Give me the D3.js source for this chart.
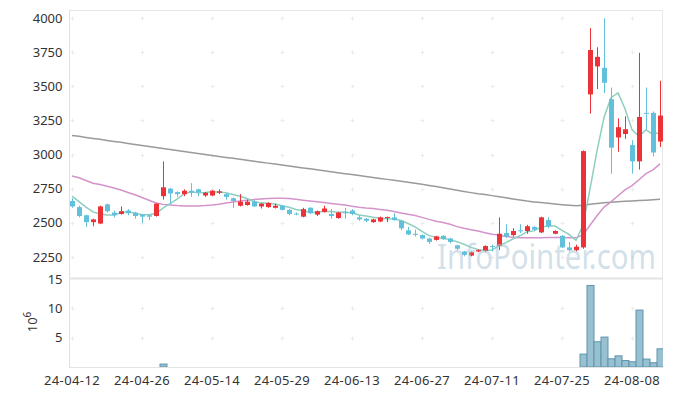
<!DOCTYPE html>
<html>
<head>
<meta charset="utf-8">
<script src="https://cdn.jsdelivr.net/npm/d3@7"></script>
<style>
body { margin: 0; background: #fff; }
svg { display: block; font-family: "Noto Sans", sans-serif; }
.tickLabel { font-size: 13px; fill: #333; font-family: "Noto Sans", sans-serif; }
</style>
</head>
<body>
<div id="chart"></div>
<script>
const dates = [
  "24-04-12","24-04-15","24-04-16","24-04-17","24-04-18","24-04-19","24-04-22","24-04-23","24-04-24","24-04-25",
  "24-04-26","24-04-29","24-04-30","24-05-02","24-05-03","24-05-07","24-05-08","24-05-09","24-05-10","24-05-13",
  "24-05-14","24-05-16","24-05-17","24-05-20","24-05-21","24-05-22","24-05-23","24-05-24","24-05-27","24-05-28",
  "24-05-29","24-05-30","24-05-31","24-06-03","24-06-04","24-06-05","24-06-07","24-06-10","24-06-11","24-06-12",
  "24-06-13","24-06-14","24-06-17","24-06-18","24-06-19","24-06-20","24-06-21","24-06-24","24-06-25","24-06-26",
  "24-06-27","24-06-28","24-07-01","24-07-02","24-07-03","24-07-04","24-07-05","24-07-08","24-07-09","24-07-10",
  "24-07-11","24-07-12","24-07-15","24-07-16","24-07-17","24-07-18","24-07-19","24-07-22","24-07-23","24-07-24",
  "24-07-25","24-07-26","24-07-29","24-07-30","24-07-31","24-08-01","24-08-02","24-08-05","24-08-06","24-08-07",
  "24-08-08","24-08-09","24-08-12","24-08-13","24-08-14"
];

const open = [
  2660,2615,2555,2505,2495,2635,2575,2565,2590,2575,
  2560,2555,2550,2695,2750,2725,2710,2735,2745,2700,
  2700,2720,2710,2680,2625,2630,2655,2620,2615,2610,
  2625,2595,2568,2545,2610,2560,2580,2565,2535,2580,
  2590,2540,2530,2505,2510,2535,2540,2515,2445,2420,
  2410,2385,2375,2405,2385,2335,2290,2260,2290,2295,
  2330,2330,2425,2410,2445,2440,2470,2430,2520,2420,
  2405,2320,2300,2320,3440,3645,3635,3405,3125,3150,
  3070,2950,3305,3305,3095
];
const high = [
  2680,2625,2560,2530,2625,2640,2590,2620,2600,2580,
  2565,2560,2645,2950,2755,2730,2745,2790,2750,2725,
  2740,2745,2715,2685,2710,2670,2665,2645,2650,2640,
  2630,2600,2575,2610,2615,2590,2625,2600,2580,2610,
  2600,2555,2535,2530,2545,2545,2570,2520,2470,2450,
  2415,2390,2405,2410,2390,2340,2295,2290,2305,2335,
  2340,2540,2490,2460,2490,2485,2475,2545,2540,2445,
  2410,2360,2340,3030,3925,3785,3998,3490,3265,3280,
  3105,3745,3490,3315,3540
];
const low = [
  2610,2540,2470,2475,2490,2575,2540,2560,2555,2530,
  2500,2520,2545,2670,2640,2690,2695,2690,2695,2690,
  2695,2710,2670,2610,2620,2625,2615,2605,2610,2605,
  2590,2555,2555,2540,2565,2550,2575,2530,2530,2530,
  2555,2515,2505,2500,2505,2505,2515,2445,2410,2400,
  2380,2345,2370,2375,2350,2300,2255,2255,2285,2285,
  2290,2300,2390,2400,2425,2420,2440,2425,2460,2415,
  2315,2290,2290,2310,3300,3480,3450,2860,3020,3115,
  2860,2890,3185,2985,3055
];
const close = [
  2620,2550,2505,2525,2620,2585,2555,2585,2570,2550,
  2545,2545,2640,2760,2715,2710,2735,2720,2725,2720,
  2735,2730,2690,2660,2655,2655,2620,2640,2645,2625,
  2595,2565,2562,2600,2570,2585,2605,2550,2575,2570,
  2565,2525,2515,2525,2540,2542,2520,2460,2415,2412,
  2385,2360,2400,2380,2360,2310,2265,2285,2300,2330,
  2325,2420,2400,2440,2440,2475,2450,2540,2475,2440,
  2320,2300,2325,3025,3765,3715,3525,3050,3200,3185,
  2950,3275,3300,3015,3285
];
// volume in millions of shares
const volume = [
  0.06,0.05,0.06,0.04,0.07,0.05,0.04,0.05,0.04,0.04,
  0.05,0.04,0.09,0.50,0.12,0.05,0.04,0.06,0.04,0.03,
  0.04,0.03,0.04,0.05,0.06,0.04,0.04,0.03,0.03,0.03,
  0.04,0.05,0.03,0.06,0.04,0.03,0.05,0.04,0.04,0.05,
  0.03,0.04,0.03,0.03,0.04,0.03,0.05,0.07,0.06,0.04,
  0.04,0.05,0.04,0.03,0.04,0.06,0.07,0.05,0.04,0.05,
  0.04,0.14,0.08,0.06,0.07,0.06,0.05,0.10,0.08,0.05,
  0.09,0.06,0.05,2.2,13.9,4.3,5.1,1.4,1.9,1.1,
  0.9,9.7,1.35,0.73,3.1
];
const ma5 = [
  2695,2655,2615,2580,2564,2557,2558,2574,2583,2569,
  2561,2559,2570,2608,2641,2674,2712,2728,2721,2722,
  2727,2726,2720,2707,2694,2678,2656,2646,2643,2637,
  2625,2614,2598,2589,2578,2576,2584,2582,2577,2577,
  2573,2557,2550,2540,2534,2529,2528,2517,2495,2470,
  2438,2406,2394,2387,2377,2362,2343,2320,2304,2298,
  2301,2332,2355,2383,2405,2435,2441,2469,2476,2476,
  2445,2415,2372,2482,2747,3026,3271,3416,3451,3335,
  3182,3132,3182,3145,3165
];
const ma20 = [
  2843,2830,2810,2790,2780,2768,2755,2740,2722,2705,
  2685,2665,2645,2635,2630,2626,2624,2623,2624,2626,
  2630,2636,2645,2652,2660,2666,2671,2675,2678,2680,
  2680,2678,2672,2666,2660,2655,2648,2642,2636,2630,
  2622,2614,2608,2604,2598,2592,2583,2572,2563,2553,
  2540,2525,2512,2503,2490,2472,2460,2450,2440,2428,
  2416,2410,2400,2395,2390,2390,2390,2391,2392,2393,
  2392,2391,2390,2411,2482,2552,2615,2653,2698,2741,
  2772,2815,2860,2888,2931
];
const ma120 = [
  3140,3133,3125,3118,3111,3103,3096,3089,3081,3074,
  3066,3059,3052,3044,3037,3030,3022,3015,3008,3000,
  2993,2986,2979,2972,2965,2958,2951,2944,2937,2930,
  2923,2916,2909,2902,2895,2888,2881,2874,2867,2860,
  2853,2846,2839,2832,2825,2818,2811,2804,2797,2790,
  2782,2774,2766,2757,2748,2739,2730,2721,2712,2707,
  2699,2691,2683,2675,2667,2659,2653,2648,2643,2638,
  2633,2629,2625,2628,2636,2642,2647,2651,2654,2657,
  2660,2663,2666,2669,2672
];

const priceTicks = [2250, 2500, 2750, 3000, 3250, 3500, 3750, 4000];
const volumeTicks = [5, 10, 15];
const dateTicks = ["24-04-12","24-04-26","24-05-14","24-05-29","24-06-13","24-06-27","24-07-11","24-07-25","24-08-08"];

const width = 673, height = 396;
const left = 68.5, right = 663.5;
const priceTop = 10, priceBottom = 278;
const volTop = 279, volBottom = 367;

const upColor = "#ec3137", downColor = "#62c0da";

const svg = d3.select("#chart").append("svg")
    .attr("width", width)
    .attr("height", height);

const x = d3.scaleBand()
    .domain(dates)
    .range([left, right])
    .padding(0);
const cx = d => x(d) + x.bandwidth() / 2;

const yPrice = d3.scaleLinear()
    .domain([2096, 4058])
    .range([priceBottom, priceTop]);

const yVol = d3.scaleLinear()
    .domain([0, 15])
    .range([volBottom, volTop]);

const defs = svg.append("defs");
defs.append("clipPath").attr("id", "clipPrice")
  .append("rect").attr("x", left).attr("y", priceTop).attr("width", right - left - 0.5).attr("height", priceBottom - priceTop);
defs.append("clipPath").attr("id", "clipVol")
  .append("rect").attr("x", left).attr("y", volTop).attr("width", right - left - 0.5).attr("height", volBottom - volTop);

// frame
svg.append("line").attr("x1", 69).attr("x2", 663).attr("y1", 10.5).attr("y2", 10.5).attr("stroke", "#e8e8e8");
svg.append("line").attr("x1", 662.5).attr("x2", 662.5).attr("y1", 10).attr("y2", 368).attr("stroke", "#e8e8e8");
svg.append("line").attr("x1", 69.5).attr("x2", 69.5).attr("y1", 10).attr("y2", 368).attr("stroke", "#e0e0e0");
svg.append("line").attr("x1", 69).attr("x2", 663).attr("y1", 278.5).attr("y2", 278.5).attr("stroke", "#e3e3e3").attr("stroke-width", 2);
svg.append("line").attr("x1", 69).attr("x2", 663).attr("y1", 367.5).attr("y2", 367.5).attr("stroke", "#e3e3e3");

// grid crosses
const crossX = dateTicks.map(d => cx(d));
const grid = svg.append("g").attr("stroke", "#ebebeb").attr("stroke-width", 1);
const addCrosses = (ys) => {
    ys.forEach(yy => {
        crossX.forEach(xx => {
            const px = Math.round(xx) + 0.5, py = Math.round(yy) + 0.5;
            grid.append("line").attr("x1", px - 2).attr("x2", px + 2).attr("y1", py).attr("y2", py);
            grid.append("line").attr("x1", px).attr("x2", px).attr("y1", py - 2).attr("y2", py + 2);
        });
    });
};
addCrosses(priceTicks.map(yPrice));
addCrosses(volumeTicks.slice(0, 2).map(yVol));

// axes labels
const yAxisPrice = svg.append("g")
    .attr("transform", `translate(${left}, 0)`)
    .call(d3.axisLeft(yPrice).tickValues(priceTicks).tickFormat(d3.format("d")).tickSize(0).tickPadding(6));
const yAxisVol = svg.append("g")
    .attr("transform", `translate(${left}, 0)`)
    .call(d3.axisLeft(yVol).tickValues(volumeTicks).tickFormat(d3.format("d")).tickSize(0).tickPadding(6));
const xAxis = svg.append("g")
    .attr("transform", `translate(0, ${volBottom})`)
    .call(d3.axisBottom(x).tickValues(dateTicks).tickSize(0).tickPadding(9));

[yAxisPrice, yAxisVol, xAxis].forEach(g => {
    g.attr("font-family", null).attr("font-size", null);
    g.select(".domain").remove();
    g.selectAll("text")
      .attr("class", "tickLabel")
      .attr("fill", null);
});
xAxis.selectAll("text").style("letter-spacing", "0.4px");

// volume unit
svg.append("text")
    .attr("transform", "translate(37, 322) rotate(-90)")
    .attr("text-anchor", "middle")
    .attr("class", "tickLabel")
    .html('10<tspan dy="-6" font-size="10">6</tspan>');

// volume bars
const idx = d3.range(dates.length);
svg.append("g")
    .attr("clip-path", "url(#clipVol)")
    .selectAll("rect")
    .data(idx.filter(i => yVol(0) - yVol(volume[i]) >= 1))
    .enter()
    .append("rect")
    .attr("x", i => x(dates[i]) + 0.5)
    .attr("y", i => yVol(volume[i]))
    .attr("width", x.bandwidth())
    .attr("height", i => yVol(0) - yVol(volume[i]))
    .attr("fill", "#98c0d1")
    .attr("stroke", "#5d95ae")
    .attr("stroke-width", 1);

// moving averages
const priceG = svg.append("g").attr("clip-path", "url(#clipPrice)");
const line = arr => d3.line()
    .x((v, i) => cx(dates[i]))
    .y(v => yPrice(v))(arr);

priceG.append("path").attr("d", line(ma120)).attr("fill", "none").attr("stroke", "#9a9a9a").attr("stroke-width", 1.5);
priceG.append("path").attr("d", line(ma20)).attr("fill", "none").attr("stroke", "#d493ca").attr("stroke-width", 1.5);
priceG.append("path").attr("d", line(ma5)).attr("fill", "none").attr("stroke", "#8dcfc0").attr("stroke-width", 1.5);

// candles
const candles = priceG.selectAll("g.candle")
    .data(idx)
    .enter()
    .append("g")
    .attr("class", "candle");

candles.append("line")
    .attr("x1", i => Math.round(cx(dates[i])) + 0.5)
    .attr("x2", i => Math.round(cx(dates[i])) + 0.5)
    .attr("y1", i => yPrice(high[i]))
    .attr("y2", i => yPrice(low[i]))
    .attr("stroke", i => close[i] >= open[i] ? upColor : downColor)
    .attr("stroke-width", 1);

candles.append("rect")
    .attr("x", i => Math.round(cx(dates[i])) + 0.5 - 2.5)
    .attr("y", i => yPrice(Math.max(open[i], close[i])))
    .attr("width", 5)
    .attr("height", i => Math.max(1, yPrice(Math.min(open[i], close[i])) - yPrice(Math.max(open[i], close[i]))))
    .attr("fill", i => close[i] >= open[i] ? upColor : downColor);

// watermark
svg.append("text")
    .attr("x", 437)
    .attr("y", 269)
    .attr("font-family", "Noto Sans, sans-serif")
    .attr("font-size", 34)
    .attr("textLength", 219)
    .attr("lengthAdjust", "spacingAndGlyphs")
    .attr("fill", "#a9c5d6")
    .attr("fill-opacity", 0.55)
    .text("InfoPointer.com");
</script>
</body>
</html>
